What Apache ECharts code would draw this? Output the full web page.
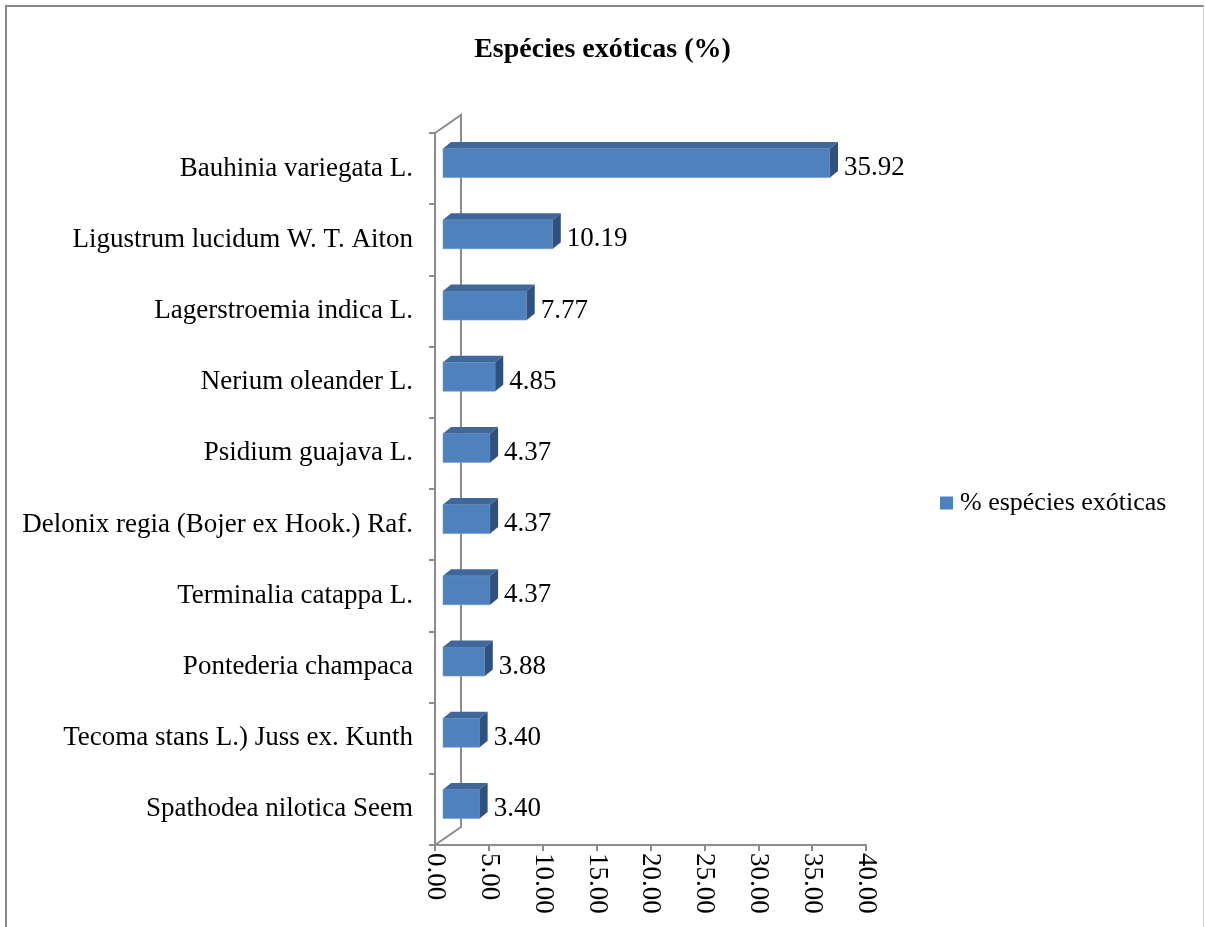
<!DOCTYPE html>
<html>
<head>
<meta charset="utf-8">
<script src="https://cdn.jsdelivr.net/npm/echarts@6/dist/echarts.min.js"></script>
<style>
  html, body { margin: 0; padding: 0; background: #fff; }
  #frame { position: absolute; left: 5px; top: 5px; width: 1196px; height: 960px;
           border-top: 2px solid #8a8a8a; border-left: 2px solid #8a8a8a; border-right: 1px solid #d0d0d0; }
  #main { position: absolute; left: 0; top: 0; width: 1205px; height: 927px; }
</style>
</head>
<body>
<div id="frame"></div>
<div id="main"></div>
<script>
const titleText = 'Espécies exóticas (%)';
const seriesName = '% espécies exóticas';
const categories = [
  'Bauhinia variegata L.',
  'Ligustrum lucidum W. T. Aiton',
  'Lagerstroemia indica L.',
  'Nerium oleander L.',
  'Psidium guajava L.',
  'Delonix regia (Bojer ex Hook.) Raf.',
  'Terminalia catappa L.',
  'Pontederia champaca',
  'Tecoma stans L.) Juss ex. Kunth',
  'Spathodea nilotica Seem'
];
const values = [35.92, 10.19, 7.77, 4.85, 4.37, 4.37, 4.37, 3.88, 3.40, 3.40];
const axisMin = 0, axisMax = 40, axisStep = 5;

const FONT = '"Liberation Serif", "DejaVu Serif", serif';
const FS = 27;
const FRONT = '#4F81BD', TOP = '#40679A', SIDE = '#30507E';
const AXIS = '#8c8c8c';

const chart = echarts.init(document.getElementById('main'), null, { renderer: 'canvas' });

function renderItem(params, api) {
  const v = api.value(0), c = api.value(1);
  const p0 = api.coord([0, c]);
  const p1 = api.coord([v, c]);
  const dx = 8, dy = -6.5, h = 29, off = -5.5;
  const x0 = p0[0] + dx, x1 = p1[0] + dx;
  const yc = p0[1] + off, yt = yc - h / 2, yb = yc + h / 2;
  return {
    type: 'group',
    children: [
      { type: 'rect', shape: { x: x0, y: yt, width: x1 - x0, height: h },
        style: { fill: FRONT, stroke: '#6f98cc', lineWidth: 0.6 } },
      { type: 'polygon', shape: { points: [[x0, yt], [x0 + dx, yt + dy], [x1 + dx, yt + dy], [x1, yt]] },
        style: { fill: TOP } },
      { type: 'polygon', shape: { points: [[x1, yt], [x1 + dx, yt + dy], [x1 + dx, yb + dy], [x1, yb]] },
        style: { fill: SIDE } },
      { type: 'text', style: { text: v.toFixed(2), x: x1 + dx + 6, y: yc + 5,
        verticalAlign: 'middle', align: 'left', font: FS + 'px ' + FONT, fill: '#000' } }
    ]
  };
}

chart.setOption({
  animation: false,
  backgroundColor: 'transparent',
  title: {
    text: titleText, left: 'center', top: 31,
    textStyle: { fontFamily: FONT, fontSize: 28, fontWeight: 'bold', color: '#000' }
  },
  legend: {
    left: 935, top: 485, icon: 'rect', itemWidth: 13, itemHeight: 13, itemGap: 5,
    data: [seriesName],
    textStyle: { fontFamily: FONT, fontSize: 26, color: '#000', padding: [0, 0, 0, 2] }
  },
  grid: { left: 435, right: 339, top: 133, bottom: 82, containLabel: false },
  xAxis: {
    type: 'value', min: axisMin, max: axisMax, interval: axisStep,
    axisLine: { show: true, lineStyle: { color: AXIS, width: 2 } },
    axisTick: { show: true, length: 6, lineStyle: { color: AXIS, width: 2 } },
    splitLine: { show: false },
    axisLabel: { rotate: -90, margin: 8, fontFamily: FONT, fontSize: FS, color: '#000',
      formatter: v => v.toFixed(2) }
  },
  yAxis: {
    type: 'category', data: categories, inverse: true,
    axisLine: { show: true, lineStyle: { color: AXIS, width: 2 } },
    axisTick: { show: true, length: 6, lineStyle: { color: AXIS, width: 2 } },
    axisLabel: { margin: 22, fontFamily: FONT, fontSize: FS, color: '#000', padding: [6, 0, 0, 0] }
  },
  series: [{
    type: 'custom', name: seriesName, renderItem: renderItem,
    itemStyle: { color: FRONT },
    encode: { x: 0, y: 1 },
    data: values.map((v, i) => [v, i])
  }]
});

// 3D wall outline computed from the chart's own grid
const grid = chart.getModel().getComponent('grid').coordinateSystem.getRect();
const xf = grid.x, yTop = grid.y, yBot = grid.y + grid.height;
const wdx = 26, wdy = -18;
chart.setOption({
  graphic: [{
    type: 'polyline', z: 0,
    shape: { points: [[xf, yTop], [xf + wdx, yTop + wdy], [xf + wdx, yBot + wdy], [xf, yBot]] },
    style: { stroke: AXIS, lineWidth: 2, fill: null }
  }]
});
</script>
</body>
</html>
